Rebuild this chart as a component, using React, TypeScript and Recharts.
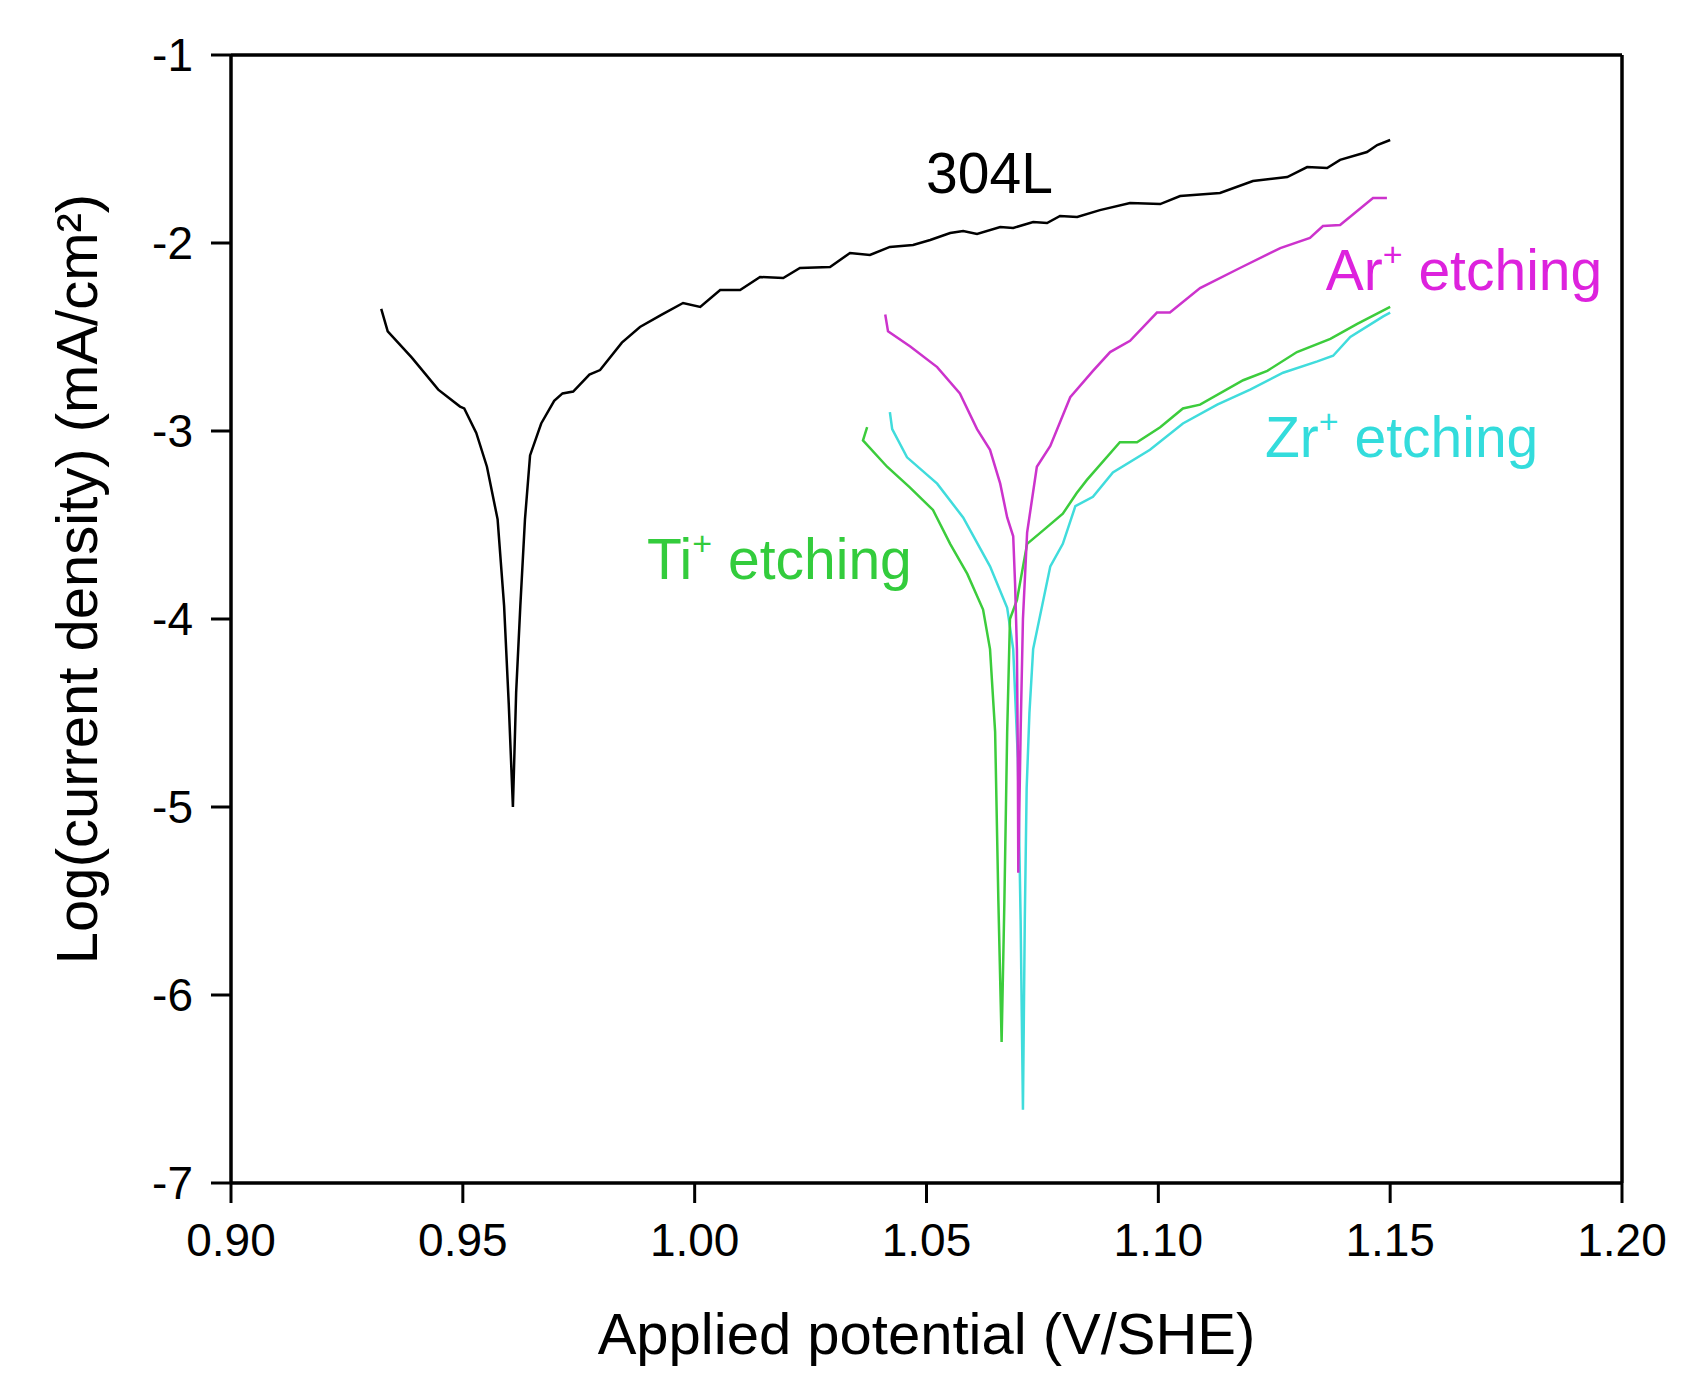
import { LineChart, Line, XAxis, YAxis, ReferenceLine, ReferenceDot } from 'recharts';

// potential (V/SHE), log(current density) pairs
const s304L: [number, number][] = [
  [0.9324, -2.35], [0.9338, -2.47], [0.939, -2.61], [0.9447, -2.78], [0.9494, -2.87],
  [0.9503, -2.88], [0.9529, -3.01], [0.9552, -3.19], [0.9575, -3.47], [0.9589, -3.93],
  [0.9599, -4.45], [0.9608, -5.0], [0.9615, -4.39], [0.9624, -3.93], [0.9634, -3.47],
  [0.9645, -3.13], [0.9669, -2.96], [0.9697, -2.84], [0.9715, -2.8], [0.9738, -2.79],
  [0.9773, -2.7], [0.9796, -2.676], [0.9843, -2.53], [0.9882, -2.447], [0.993, -2.38],
  [0.9975, -2.319], [1.0012, -2.34], [1.0055, -2.25], [1.0098, -2.25], [1.0141, -2.181],
  [1.0191, -2.186], [1.0227, -2.133], [1.0292, -2.128], [1.0335, -2.053], [1.0378, -2.064],
  [1.0421, -2.021], [1.0471, -2.011], [1.0508, -1.984], [1.0551, -1.947], [1.0579, -1.936],
  [1.0609, -1.952], [1.0659, -1.915], [1.0687, -1.92], [1.073, -1.888], [1.076, -1.894],
  [1.0788, -1.856], [1.0825, -1.862], [1.0874, -1.825], [1.0939, -1.787], [1.1004, -1.793],
  [1.1047, -1.75], [1.1133, -1.734], [1.1204, -1.67], [1.1278, -1.649], [1.1321, -1.596],
  [1.1364, -1.601], [1.1392, -1.558], [1.145, -1.516], [1.1472, -1.479], [1.15, -1.452],
];

const sAr: [number, number][] = [
  [1.0411, -2.38], [1.0417, -2.47], [1.0465, -2.55], [1.0523, -2.66], [1.0572, -2.8],
  [1.0609, -2.99], [1.0637, -3.1], [1.0659, -3.28], [1.0674, -3.46], [1.0687, -3.56],
  [1.0691, -3.81], [1.0695, -4.16], [1.0697, -4.74], [1.0698, -5.35], [1.0703, -4.6],
  [1.0708, -4.0], [1.0717, -3.54], [1.0738, -3.19], [1.0767, -3.08], [1.081, -2.82],
  [1.0859, -2.68], [1.0896, -2.58], [1.0939, -2.52], [1.0997, -2.37], [1.1025, -2.37],
  [1.109, -2.24], [1.1176, -2.133], [1.1263, -2.027], [1.1327, -1.973], [1.1355, -1.91],
  [1.1392, -1.904], [1.1463, -1.761], [1.1493, -1.761],
];

const sTi: [number, number][] = [
  [1.0372, -2.98], [1.0363, -3.05], [1.0415, -3.19], [1.0464, -3.3], [1.0514, -3.42],
  [1.0551, -3.6], [1.0588, -3.76], [1.0622, -3.95], [1.0637, -4.16], [1.0648, -4.6],
  [1.0655, -5.5], [1.0662, -6.25], [1.0668, -5.5], [1.0674, -4.6], [1.068, -4.0],
  [1.0695, -3.9], [1.0717, -3.6], [1.0751, -3.53], [1.0794, -3.44], [1.0824, -3.33],
  [1.0846, -3.26], [1.0917, -3.06], [1.0954, -3.06], [1.1004, -2.98], [1.1053, -2.88],
  [1.109, -2.86], [1.1183, -2.73], [1.1235, -2.68], [1.1299, -2.58], [1.1371, -2.51],
  [1.1429, -2.43], [1.15, -2.34],
];

const sZr: [number, number][] = [
  [1.0421, -2.9], [1.0426, -2.99], [1.0458, -3.14], [1.0523, -3.28], [1.0579, -3.46],
  [1.0637, -3.72], [1.0674, -3.94], [1.0687, -4.16], [1.0697, -4.74], [1.0703, -5.6],
  [1.0708, -6.61], [1.0712, -5.6], [1.0716, -4.9], [1.0722, -4.5], [1.073, -4.16],
  [1.0767, -3.72], [1.0794, -3.6], [1.0821, -3.4], [1.0859, -3.35], [1.0902, -3.22],
  [1.0982, -3.1], [1.1053, -2.96], [1.1127, -2.86], [1.1198, -2.78], [1.1269, -2.69],
  [1.1343, -2.63], [1.1377, -2.6], [1.1414, -2.5], [1.1485, -2.39], [1.15, -2.37],
];

const xTicks = [0.9, 0.95, 1.0, 1.05, 1.1, 1.15, 1.2];
const yTicks = [-7, -6, -5, -4, -3, -2, -1];

const FONT = '"Liberation Sans", Arial, sans-serif';

const toPoints = (s: [number, number][]) => s.map(([x, y]) => ({ x, y }));

function CurveLabel({ cx, cy, name, color }: any) {
  return (
    <text x={cx} y={cy} fill={color} fontSize={57} fontFamily={FONT}>
      {name}
    </text>
  );
}

function IonLabel({ cx, cy, ion, color }: any) {
  return (
    <text x={cx} y={cy} fill={color} fontSize={57} fontFamily={FONT}>
      {ion}
      <tspan dy={-24} fontSize={34}>+</tspan>
      <tspan dy={24}> etching</tspan>
    </text>
  );
}

export default function App() {
  return (
    <div style={{ width: 1689, height: 1395, background: '#fff' }}>
      <style>{`body{margin:0}`}</style>
      <LineChart width={1689} height={1395} margin={{ top: 55, right: 67, bottom: 22, left: 131 }}>
        <XAxis
          type="number"
          dataKey="x"
          domain={[0.9, 1.2]}
          ticks={xTicks}
          tickFormatter={(v: number) => v.toFixed(2)}
          allowDataOverflow
          height={190}
          stroke="#000"
          axisLine={{ strokeWidth: 3.5 }}
          tickLine={{ strokeWidth: 3 }}
          tickSize={20}
          tickMargin={20}
          tick={{ fontSize: 46, fill: '#000', fontFamily: FONT }}
          label={{
            content: ({ viewBox }: any) => (
              <text
                x={viewBox.x + viewBox.width / 2}
                y={viewBox.y + 171}
                textAnchor="middle"
                fontSize={58}
                fontFamily={FONT}
                fill="#000"
              >
                Applied potential (V/SHE)
              </text>
            ),
          }}
        />
        <YAxis
          type="number"
          domain={[-7, -1]}
          ticks={yTicks}
          allowDataOverflow
          width={100}
          stroke="#000"
          axisLine={{ strokeWidth: 3.5 }}
          tickLine={{ strokeWidth: 3 }}
          tickSize={20}
          tickMargin={18}
          tick={{ fontSize: 46, fill: '#000', fontFamily: FONT }}
          label={{
            content: () => (
              <text
                x={97}
                y={579}
                transform="rotate(-90 97 579)"
                textAnchor="middle"
                fontSize={58}
                fontFamily={FONT}
                fill="#000"
              >
                Log(current density) (mA/cm²)
              </text>
            ),
          }}
        />
        <ReferenceLine y={-1} stroke="#000" strokeWidth={3.5} />
        <ReferenceLine x={1.2} stroke="#000" strokeWidth={3.5} />

        <Line data={toPoints(s304L)} dataKey="y" type="linear" stroke="#000" strokeWidth={2.5} dot={false} isAnimationActive={false} />
        <Line data={toPoints(sZr)} dataKey="y" type="linear" stroke="#40dcdc" strokeWidth={2.5} dot={false} isAnimationActive={false} />
        <Line data={toPoints(sTi)} dataKey="y" type="linear" stroke="#3ccc3c" strokeWidth={2.5} dot={false} isAnimationActive={false} />
        <Line data={toPoints(sAr)} dataKey="y" type="linear" stroke="#cc33cc" strokeWidth={2.5} dot={false} isAnimationActive={false} />

        <ReferenceDot x={1.0499} y={-1.734} r={0} shape={(p: any) => <CurveLabel {...p} name="304L" color="#000" />} />
        <ReferenceDot x={1.1361} y={-2.25} r={0} shape={(p: any) => <IonLabel {...p} ion="Ar" color="#dd22dd" />} />
        <ReferenceDot x={1.123} y={-3.138} r={0} shape={(p: any) => <IonLabel {...p} ion="Zr" color="#33dcdc" />} />
        <ReferenceDot x={0.9897} y={-3.787} r={0} shape={(p: any) => <IonLabel {...p} ion="Ti" color="#33cc3c" />} />
      </LineChart>
    </div>
  );
}
